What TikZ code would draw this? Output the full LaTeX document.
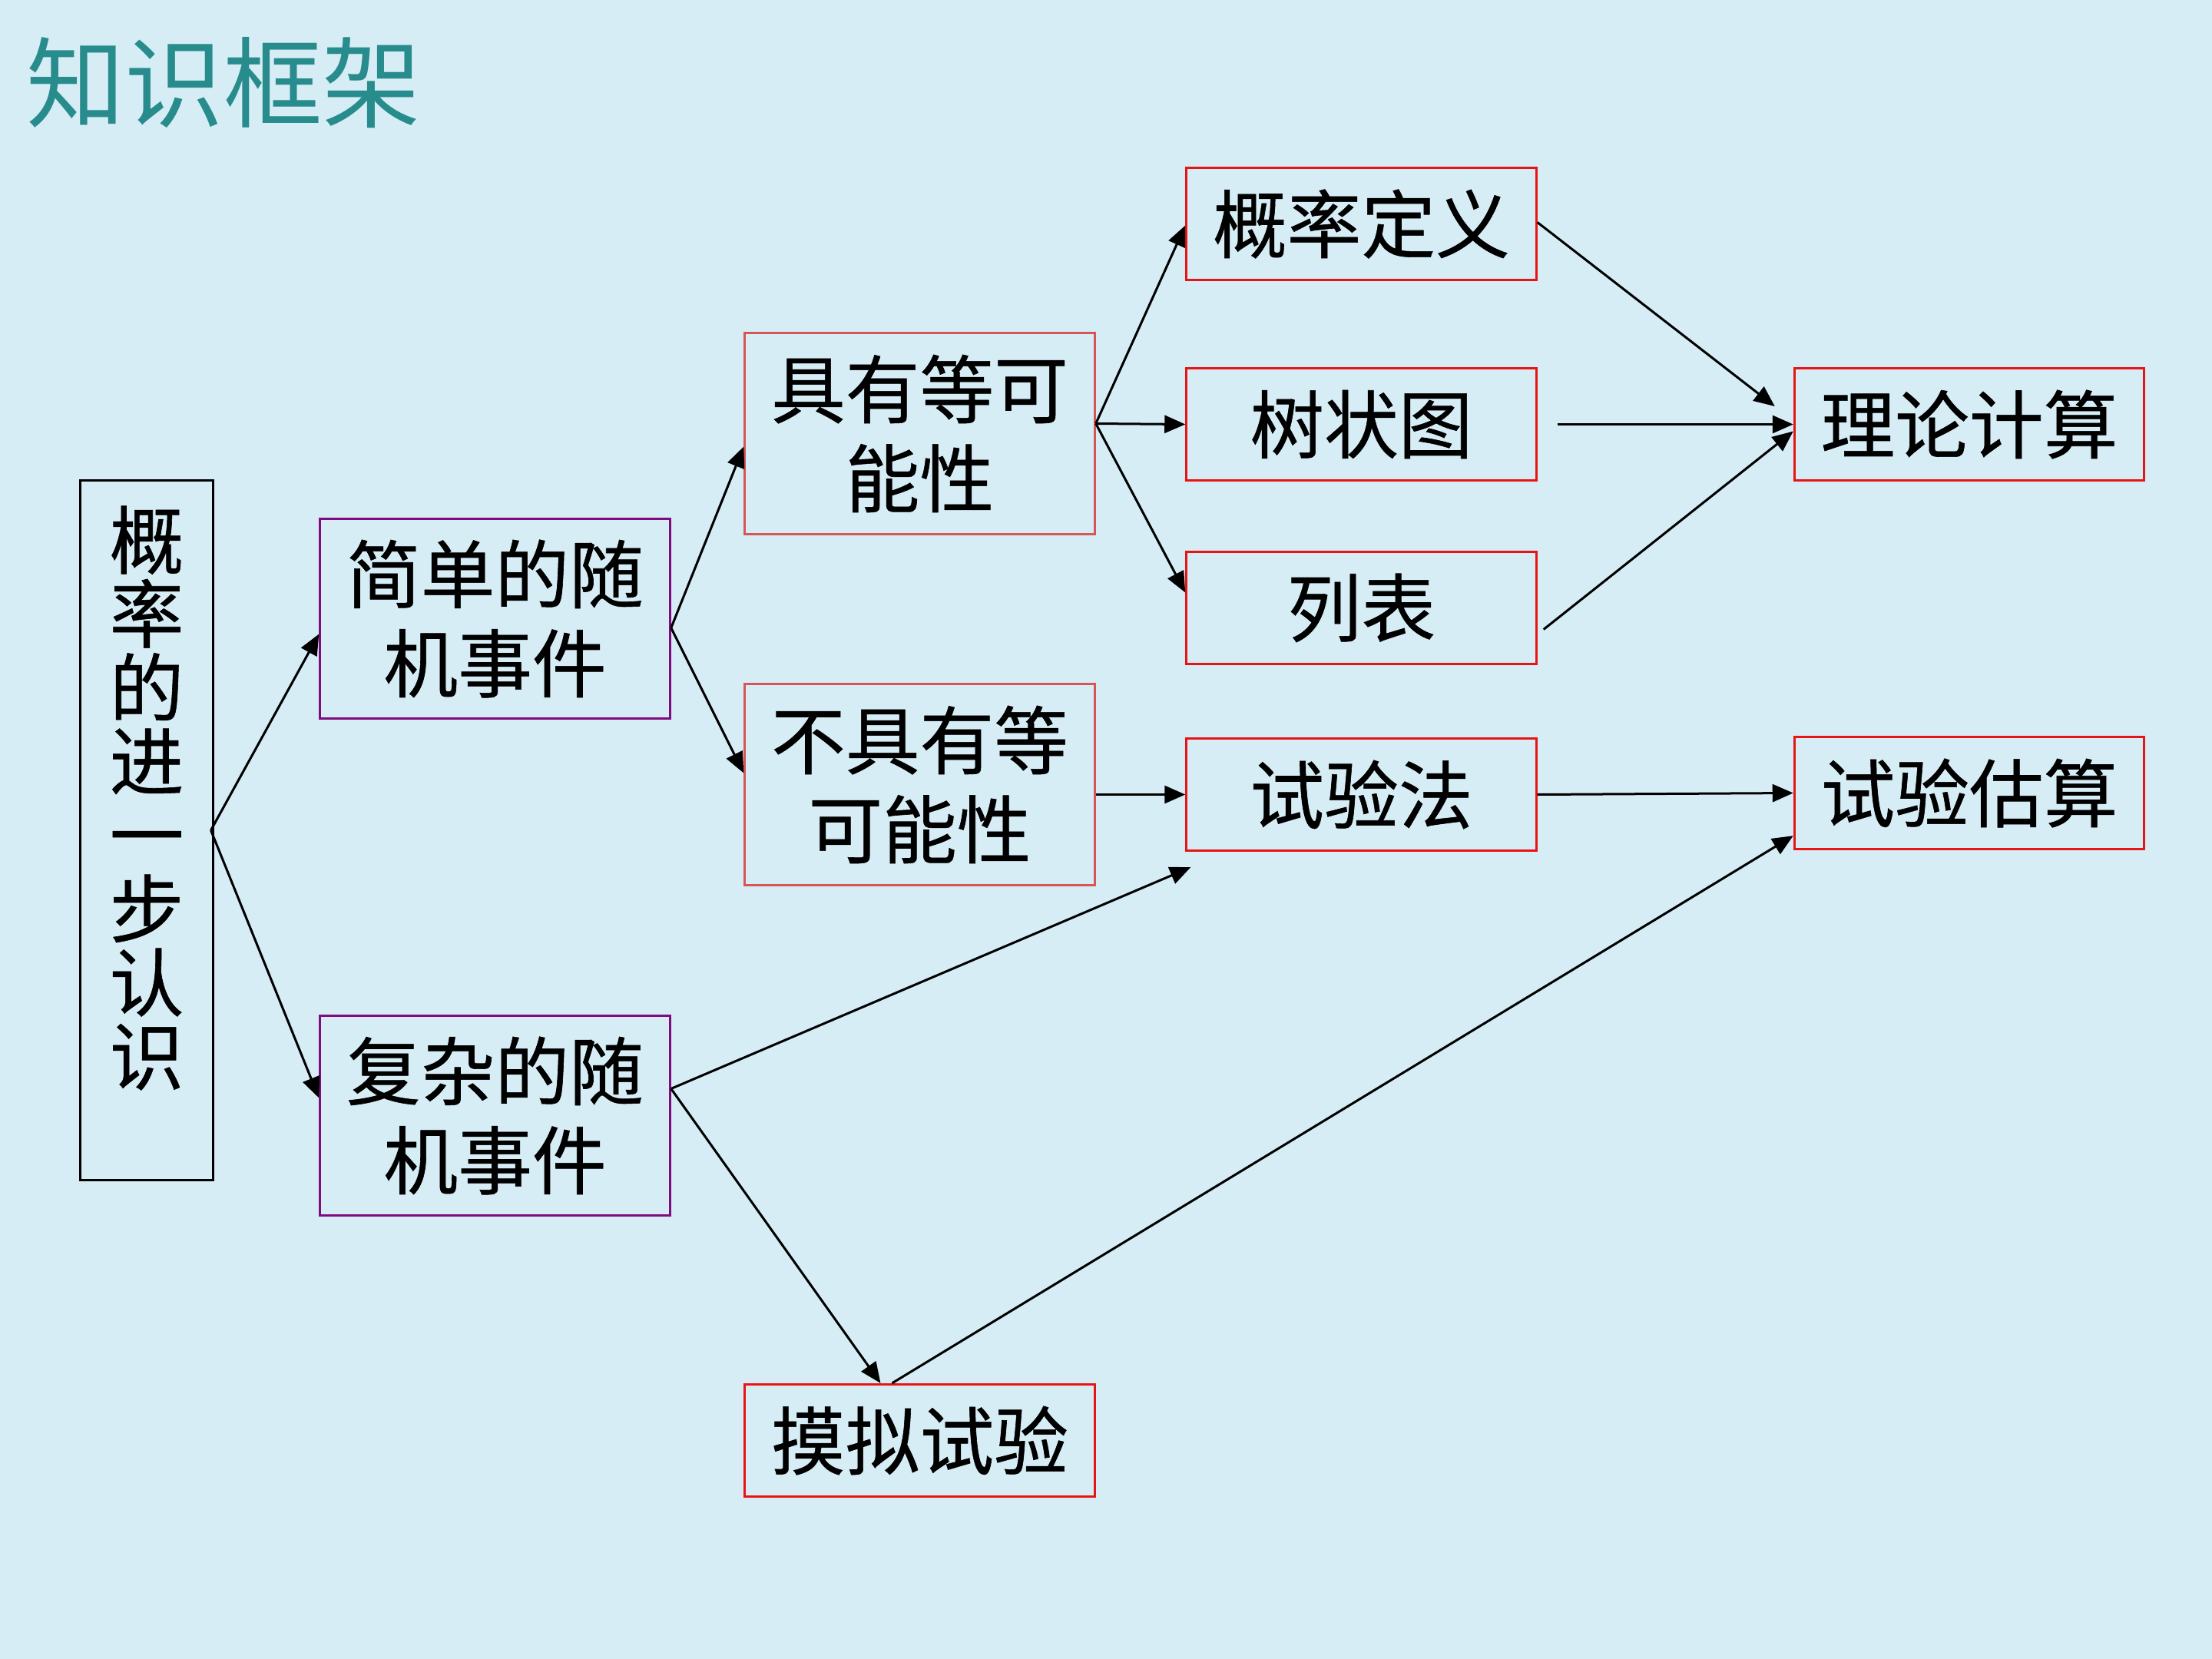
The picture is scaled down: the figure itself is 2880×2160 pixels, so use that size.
\documentclass[tikz,border=0pt]{standalone}
\usepackage{fontspec}
\usetikzlibrary{arrows.meta}
\newfontfamily\cjk{Noto Sans CJK SC}[FakeBold=0.6]
\newfontfamily\cjktitle{Noto Sans CJK SC}
\definecolor{bgblue}{RGB}{214,237,246}
\definecolor{titleteal}{RGB}{40,140,140}
\definecolor{boxred}{RGB}{232,20,20}
\definecolor{softred}{RGB}{215,85,85}
\definecolor{boxpurple}{RGB}{128,10,128}
\begin{document}
\begin{tikzpicture}[x=0.01cm,y=-0.01cm,
  txt/.style={font=\cjk\fontsize{27.5}{33}\selectfont, align=center, text=black},
  box/.style={txt, draw, line width=0.032cm, inner sep=0pt, minimum width=4.55cm},
  onebox/.style={box, draw=boxred, minimum height=1.46cm},
  twobox/.style={box, draw=softred, minimum height=2.62cm},
  evbox/.style={box, draw=boxpurple, minimum height=2.6cm},
  link/.style={draw=black, line width=0.03cm, -{Triangle[length=0.27cm,width=0.23cm]}}
]
% background and page size
\fill[bgblue] (0,0) rectangle (2880,2160);
\useasboundingbox (0,0) rectangle (2880,2160);

% title
\node[font=\cjktitle\fontsize{36.5}{40}\selectfont, text=titleteal, anchor=west] (title) at (22,108) {知识框架};

% left column
\node[draw=black, line width=0.03cm, minimum width=1.72cm, minimum height=9.1cm, inner sep=0pt] (L) at (191,1081) {};
\node[font=\cjk\fontsize{27.5}{27.3}\selectfont, align=center, inner sep=0pt] (Ltext) at (191,1039) {概\\率\\的\\进\\一\\步\\认\\识};

% second column
\node[evbox] (simple) at (644.5,805.5) {简单的随\\机事件};
\node[evbox] (complex) at (644.5,1452.5) {复杂的随\\机事件};

% third column
\node[twobox] (eq) at (1197.5,564.5) {具有等可\\能性};
\node[twobox] (neq) at (1197.5,1021.5) {不具有等\\可能性};
\node[onebox] (sim) at (1197.5,1875.5) {摸拟试验};

% fourth column
\node[onebox] (def) at (1772.5,291.5) {概率定义};
\node[onebox] (tree) at (1772.5,552.5) {树状图};
\node[onebox] (table) at (1772.5,791.5) {列表};
\node[onebox] (exp) at (1772.5,1034.5) {试验法};

% fifth column
\node[onebox] (theory) at (2564,552.5) {理论计算};
\node[onebox] (estimate) at (2564,1032.5) {试验估算};

% connectors
\draw[link] ([xshift=-0.04cm]L.east) -- ([yshift=-0.2cm]simple.west);
\draw[link] ([xshift=-0.04cm]L.east) -- ([yshift=0.23cm]complex.west);

\draw[link] ([yshift=-0.12cm]simple.east) -- ([yshift=-0.17cm]eq.west);
\draw[link] ([yshift=-0.12cm]simple.east) -- ([yshift=0.15cm]neq.west);

\draw[link] ([yshift=0.13cm]eq.east) -- ([yshift=-0.02cm]def.west);
\draw[link] ([yshift=0.13cm]eq.east) -- (tree.west);
\draw[link] ([yshift=0.13cm]eq.east) -- ([yshift=0.2cm]table.west);

\draw[link] ([yshift=0.02cm]def.east) -- ([xshift=-0.24cm,yshift=0.235cm]theory.west);
\draw[link] ([xshift=0.26cm]tree.east) -- (theory.west);
\draw[link] ([xshift=0.08cm,yshift=-0.28cm]table.east) -- ([yshift=-0.09cm]theory.west);

\draw[link] (neq.east |- exp.west) -- (exp.west);
\draw[link] (exp.east) -- (estimate.west);

\draw[link] ([yshift=0.35cm]complex.east) -- ([xshift=0.07cm,yshift=-0.2cm]exp.south west);
\draw[link] ([yshift=0.35cm]complex.east) -- ([xshift=-0.51cm]sim.north);
\draw[link] ([xshift=-0.36cm]sim.north) -- ([yshift=0.19cm]estimate.south west);
\end{tikzpicture}
\end{document}
